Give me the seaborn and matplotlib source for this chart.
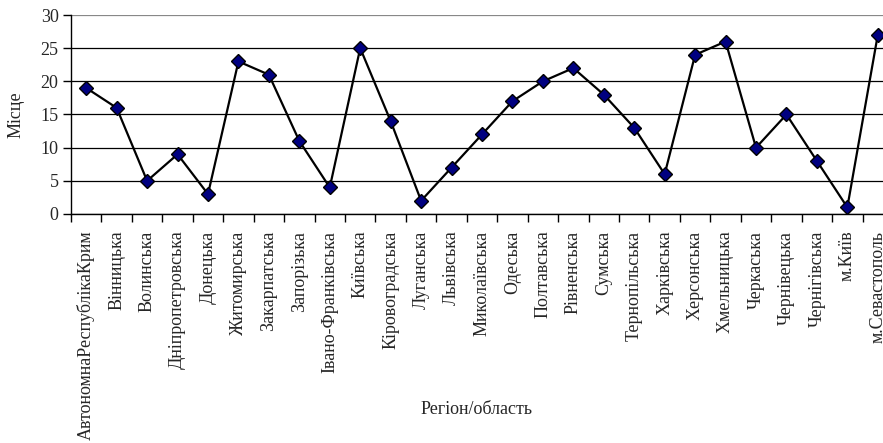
import matplotlib
matplotlib.use("Agg")
import matplotlib.pyplot as plt
import seaborn as sns
import pandas as pd
import numpy as np
from matplotlib.ticker import FixedLocator

regions = ["АвтономнаРеспублікаКрим", "Вінницька", "Волинська", "Дніпропетровська",
           "Донецька", "Житомирська", "Закарпатська", "Запорізька", "Івано-Франківська",
           "Київська", "Кіровоградська", "Луганська", "Львівська", "Миколаївська",
           "Одеська", "Полтавська", "Рівненська", "Сумська", "Тернопільська",
           "Харківська", "Херсонська", "Хмельницька", "Черкаська", "Чернівецька",
           "Чернігівська", "м.Київ", "м.Севастополь"]
places = [19, 16, 5, 9, 3, 23, 21, 11, 4, 25, 14, 2, 7, 12, 17, 20, 22, 18, 13,
          6, 24, 26, 10, 15, 8, 1, 27]
yticks = [0, 5, 10, 15, 20, 25, 30]

sns.set_theme(style="white")
plt.rcParams['font.family'] = ['Liberation Serif', 'DejaVu Serif']

df = pd.DataFrame({"region": regions, "place": places})

fig = plt.figure(figsize=(8.83, 4.43), dpi=100)
ax = fig.add_axes([71/883, 1-214/443, (893-71)/883, (214-15)/443])
sns.lineplot(data=df, x="region", y="place", sort=False, ax=ax, color="black",
             linewidth=1.6, marker="D", markersize=7.5, markerfacecolor="#000080",
             markeredgecolor="black", markeredgewidth=1.0)

n = len(regions)
ax.set_xlim(-0.5, n - 0.5)
ax.set_ylim(0, 30)
ax.set_yticks(yticks)
ax.set_xticks(range(n))
ax.set_xticklabels(regions, rotation=90, fontsize=13)
ax.xaxis.set_minor_locator(FixedLocator(np.arange(-0.5, n, 1.0)))
ax.tick_params(axis="x", which="major", length=0, pad=12)
ax.tick_params(axis="x", which="minor", length=6, width=1, color="black", direction="out", bottom=True)
ax.tick_params(axis="y", which="major", length=6, width=1, color="black", direction="out", left=True, labelsize=13, pad=3)
ax.grid(axis="y", color="black", linewidth=0.9)
gl = ax.yaxis.get_gridlines()
gl[-1].set_color("#888888")
ax.set_axisbelow(True)
for s in ["top", "right"]:
    ax.spines[s].set_visible(False)
for s in ["left", "bottom"]:
    ax.spines[s].set_color("black")
    ax.spines[s].set_linewidth(1.0)
ax.set_xlabel("")
ax.set_ylabel("")
fig.text(16/883, 1-115/443, "Місце", rotation=90, ha="center", va="center", fontsize=13)
fig.text(477/883, 1-410/443, "Регіон/область", ha="center", va="center", fontsize=13)

fig.savefig("out.png", dpi=100)
